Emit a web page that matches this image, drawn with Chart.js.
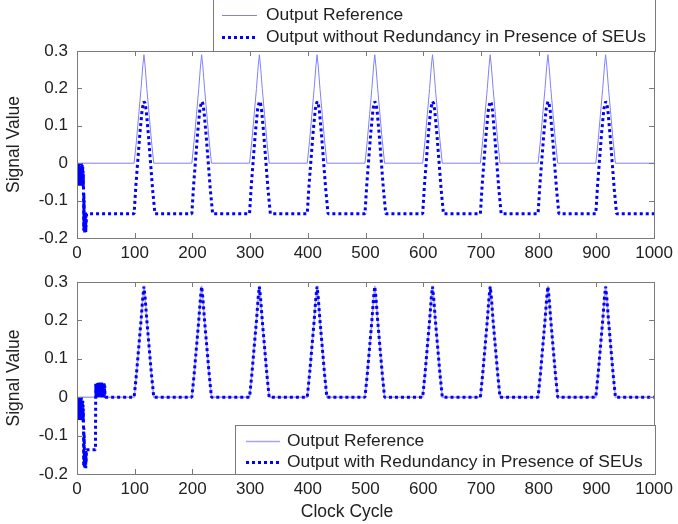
<!DOCTYPE html>
<html><head><meta charset="utf-8">
<script src="https://cdn.jsdelivr.net/npm/chart.js@4.4.0/dist/chart.umd.min.js"></script>
<style>
html,body{margin:0;padding:0;background:#fff;}
#wrap{position:relative;width:678px;height:524px;overflow:hidden;}
canvas{position:absolute;left:0;}
#c1{top:0}
#c2{top:262px}
</style></head><body>
<div id="wrap"><canvas id="c1" width="678" height="262"></canvas><canvas id="c2" width="678" height="262"></canvas></div>
<script>
// ---- data ----
const xTickValues = [0,100,200,300,400,500,600,700,800,900,1000];
const xTickLabels = ['0','100','200','300','400','500','600','700','800','900','1000'];
const yTickValues = [-0.2,-0.1,0,0.1,0.2,0.3];
const yTickLabels = ['-0.2','-0.1','0','0.1','0.2','0.3'];

const peakCenters = [116,216,316,416,516,616,716,816,916];

// Output Reference pulse (both panels)
const refPeakOffsets = [-17,-13,-9,-5,-2,0,2,5,9,13,17];
const refPeakValues  = [0,0.06,0.13,0.2,0.26,0.29,0.26,0.2,0.13,0.06,0];
const refBaseline = 0;

// SEU burst at start (cycles 0-11): [clock, value]
const seuBurstStart = [
 [0,-0.005],[0.25,-0.05],[0.5,-0.01],[0.75,-0.055],[1,0],[1.25,-0.045],[1.5,-0.015],[1.75,-0.06],
 [2,-0.005],[2.25,-0.05],[2.5,-0.02],[2.75,-0.055],[3,0],[3.25,-0.05],[3.5,-0.01],[3.75,-0.06],
 [4,-0.005],[4.25,-0.045],[4.5,-0.015],[4.75,-0.055],[5,0],[5.25,-0.05],[5.5,-0.01],[5.75,-0.06],
 [6,-0.02],[6.25,-0.055],[6.5,-0.005],[6.75,-0.05],[7,-0.015],[7.25,-0.06],[7.5,0],[7.75,-0.045],
 [8,-0.01],[8.25,-0.055],[8.5,-0.02],[8.75,-0.06],[9,-0.005],[9.25,-0.05],[9.5,-0.015],[9.75,-0.055],
 [10,-0.01],[10.25,-0.06],[10.5,-0.02],[10.75,-0.065],[11,-0.03]
];
// drop to the negative level (cycles 11-16)
const seuDrop = [
 [11.3,-0.07],[11.6,-0.18],[11.9,-0.08],[12.2,-0.175],[12.5,-0.1],[12.8,-0.18],[13.1,-0.14],[13.4,-0.185],
 [13.7,-0.145],[14,-0.18],[14.3,-0.14],[14.6,-0.175],[14.9,-0.15],[15.2,-0.185],[15.5,-0.14],[15.8,-0.17]
];

// Output without Redundancy (top panel)
const noRedRecovery = [[16.5,-0.135]];
const noRedPeakOffsets = [-17,-14,-11,-7,-3,0,2,4,8,12,15,19];
const noRedPeakValues  = [-0.135,-0.06,0,0.08,0.145,0.165,0.16,0.14,0.07,-0.01,-0.07,-0.135];
const noRedBaseline = -0.135;

// Output with Redundancy (bottom panel): recovery after the burst
const redRecovery = [
 [16.5,-0.137],[32,-0.137],[32.5,0.035],[33,0.002],[33.35,0.035],[33.7,0.005],[34.05,0.038],[34.4,0],
 [34.75,0.033],[35.1,0.004],[35.45,0.036],[35.8,0.002],[36.15,0.035],[36.5,0.005],[36.85,0.038],[37.2,0],
 [37.55,0.033],[37.9,0.004],[38.25,0.036],[38.6,0.002],[38.95,0.035],[39.3,0.005],[39.65,0.038],[40,0],
 [40.35,0.033],[40.7,0.004],[41.05,0.036],[41.4,0.002],[41.75,0.035],[42.1,0.005],[42.45,0.038],[42.8,0],
 [43.15,0.033],[43.5,0.004],[43.85,0.036],[44.2,0.002],[44.55,0.035],[44.9,0.005],[45.25,0.038],[45.6,0],
 [45.95,0.033],[46.3,0.004],[46.65,0.036],[47,0.002],[47.35,0.035],[47.7,0.005],[48.05,0.03],[48.4,0.01],[49,0]
];
const redPeakOffsets = [-17,-13,-9,-5,-2,0,2,5,9,13,17];
const redPeakValues  = [0,0.06,0.13,0.2,0.26,0.288,0.26,0.2,0.13,0.06,0];
const redBaseline = 0;

const legendTop = ['Output Reference','Output without Redundancy in Presence of SEUs'];
const legendBottom = ['Output Reference','Output with Redundancy in Presence of SEUs'];

// ---- build point lists ----
function buildSeries(startPairs, offsets, values, baseline){
  const pts = startPairs.map(p=>({x:p[0], y:p[1]}));
  peakCenters.forEach(c=>{ offsets.forEach((o,i)=>pts.push({x:c+o, y:values[i]})); });
  pts.push({x:1000, y:baseline});
  return pts;
}
const refSeries   = buildSeries([[0,refBaseline]], refPeakOffsets, refPeakValues, refBaseline);
const noRedSeries = buildSeries(seuBurstStart.concat(seuDrop, noRedRecovery), noRedPeakOffsets, noRedPeakValues, noRedBaseline);
const redSeries   = buildSeries(seuBurstStart.concat(seuDrop, redRecovery), redPeakOffsets, redPeakValues, redBaseline);

const FONT = '"Liberation Sans", Arial, Helvetica, sans-serif';
const AXC = '#7a7a7a';
const TXT = '#222';
const REFC = '#8080ff';
const REFC2 = '#aaa2ec';
const DOTC = '#0000ff';

const axesBox = {
  id:'axesBox',
  afterDatasetsDraw(chart){
    const {ctx, chartArea:a, scales} = chart;
    ctx.save();
    ctx.strokeStyle = AXC; ctx.lineWidth = 1;
    ctx.strokeRect(Math.round(a.left)+0.5, Math.round(a.top)+0.5, Math.round(a.right-a.left), Math.round(a.bottom-a.top));
    ctx.beginPath();
    xTickValues.forEach(v=>{
      const x = Math.round(scales.x.getPixelForValue(v))+0.5;
      ctx.moveTo(x, a.bottom); ctx.lineTo(x, a.bottom-5);
      ctx.moveTo(x, a.top); ctx.lineTo(x, a.top+5);
    });
    yTickValues.forEach(v=>{
      const y = Math.round(scales.y.getPixelForValue(v))+0.5;
      ctx.moveTo(a.left, y); ctx.lineTo(a.left+5, y);
      ctx.moveTo(a.right, y); ctx.lineTo(a.right-5, y);
    });
    ctx.stroke();
    ctx.restore();
  },
  afterDraw(chart){
    const ctx = chart.ctx;
    const xt = chart.options.plugins.xTitle;
    if (xt) {
      ctx.save();
      ctx.fillStyle = TXT; ctx.font = '17.5px ' + FONT;
      ctx.textAlign = 'center'; ctx.textBaseline = 'middle';
      ctx.fillText(xt.text, xt.x, xt.y);
      ctx.restore();
    }
    const o = chart.options.plugins.matLegend;
    if(!o) return;
    ctx.save();
    ctx.fillStyle = '#fff';
    ctx.fillRect(o.box[0], o.box[1], o.box[2]-o.box[0], o.box[3]-o.box[1]);
    ctx.strokeStyle = AXC; ctx.lineWidth = 1;
    ctx.strokeRect(o.box[0]+0.5, o.box[1]+0.5, o.box[2]-o.box[0], o.box[3]-o.box[1]);
    o.items.forEach(it=>{
      ctx.beginPath();
      ctx.strokeStyle = it.color; ctx.lineWidth = it.width;
      ctx.setLineDash(it.dash);
      ctx.moveTo(o.sampleX[0], it.y+0.5); ctx.lineTo(o.sampleX[1], it.y+0.5);
      ctx.stroke();
      ctx.setLineDash([]);
      ctx.fillStyle = TXT; ctx.font = '17.4px ' + FONT; ctx.textBaseline = 'middle';
      ctx.fillText(it.label, o.textX, it.y);
    });
    ctx.restore();
  }
};

function makeOptions(padTop, xHeight, xTitle, legend){
  return {
    responsive:false, animation:false, devicePixelRatio:1,
    layout:{padding:{top:padTop, right:23, left:0, bottom:0}},
    plugins:{legend:{display:false}, tooltip:{enabled:false}, matLegend: legend, xTitle: xTitle},
    scales:{
      x:{type:'linear', min:0, max:1000,
        afterBuildTicks: s=>{ s.ticks = xTickValues.map(v=>({value:v})); },
        afterFit: s=>{ s.height = xHeight; },
        grid:{display:false, drawTicks:false}, border:{display:false},
        ticks:{padding:5, color:TXT, font:{family:FONT, size:17}, maxRotation:0, autoSkip:false,
          callback:(v,i)=>xTickLabels[i]},
        title:{display:false}
      },
      y:{type:'linear', min:-0.2, max:0.3,
        afterBuildTicks: s=>{ s.ticks = yTickValues.map(v=>({value:v})); },
        afterFit: s=>{ s.width = 77; },
        grid:{display:false, drawTicks:false}, border:{display:false},
        ticks:{padding:9, color:TXT, font:{family:FONT, size:17}, autoSkip:false,
          callback:(v,i)=>yTickLabels[i]},
        title:{display:true, text:'Signal Value', color:TXT, font:{family:FONT, size:17.5}, padding:{top:4,bottom:0}}
      }
    }
  };
}

const dotted = {borderColor:DOTC, borderWidth:3, borderDash:[3,3], borderCapStyle:'butt', borderJoinStyle:'bevel', pointRadius:0, fill:false, tension:0};

new Chart(document.getElementById('c1'), {
  type:'line',
  data:{datasets:[
    Object.assign({label:legendTop[1], data:noRedSeries, order:0}, dotted),
    {label:legendTop[0], data:refSeries, order:1, borderColor:REFC, borderWidth:1, pointRadius:0, fill:false, tension:0}
  ]},
  options: makeOptions(51, 24, null, {
    box:[213,-2,655,51], sampleX:[222,257], textX:266,
    items:[
      {label:legendTop[0], color:REFC, width:1, dash:[], y:15},
      {label:legendTop[1], color:DOTC, width:3, dash:[3,3], y:37}
    ]}),
  plugins:[axesBox]
});

new Chart(document.getElementById('c2'), {
  type:'line',
  data:{datasets:[
    Object.assign({label:legendBottom[1], data:redSeries, order:0}, dotted),
    {label:legendBottom[0], data:refSeries, order:1, borderColor:REFC2, borderWidth:1.5, pointRadius:0, fill:false, tension:0}
  ]},
  options: makeOptions(20, 50, {text:'Clock Cycle', x:347, y:250}, {
    box:[235,163,655,212], sampleX:[246,280], textX:287,
    items:[
      {label:legendBottom[0], color:REFC2, width:1.5, dash:[], y:179},
      {label:legendBottom[1], color:DOTC, width:3, dash:[3,3], y:200}
    ]}),
  plugins:[axesBox]
});
</script>
</body></html>
